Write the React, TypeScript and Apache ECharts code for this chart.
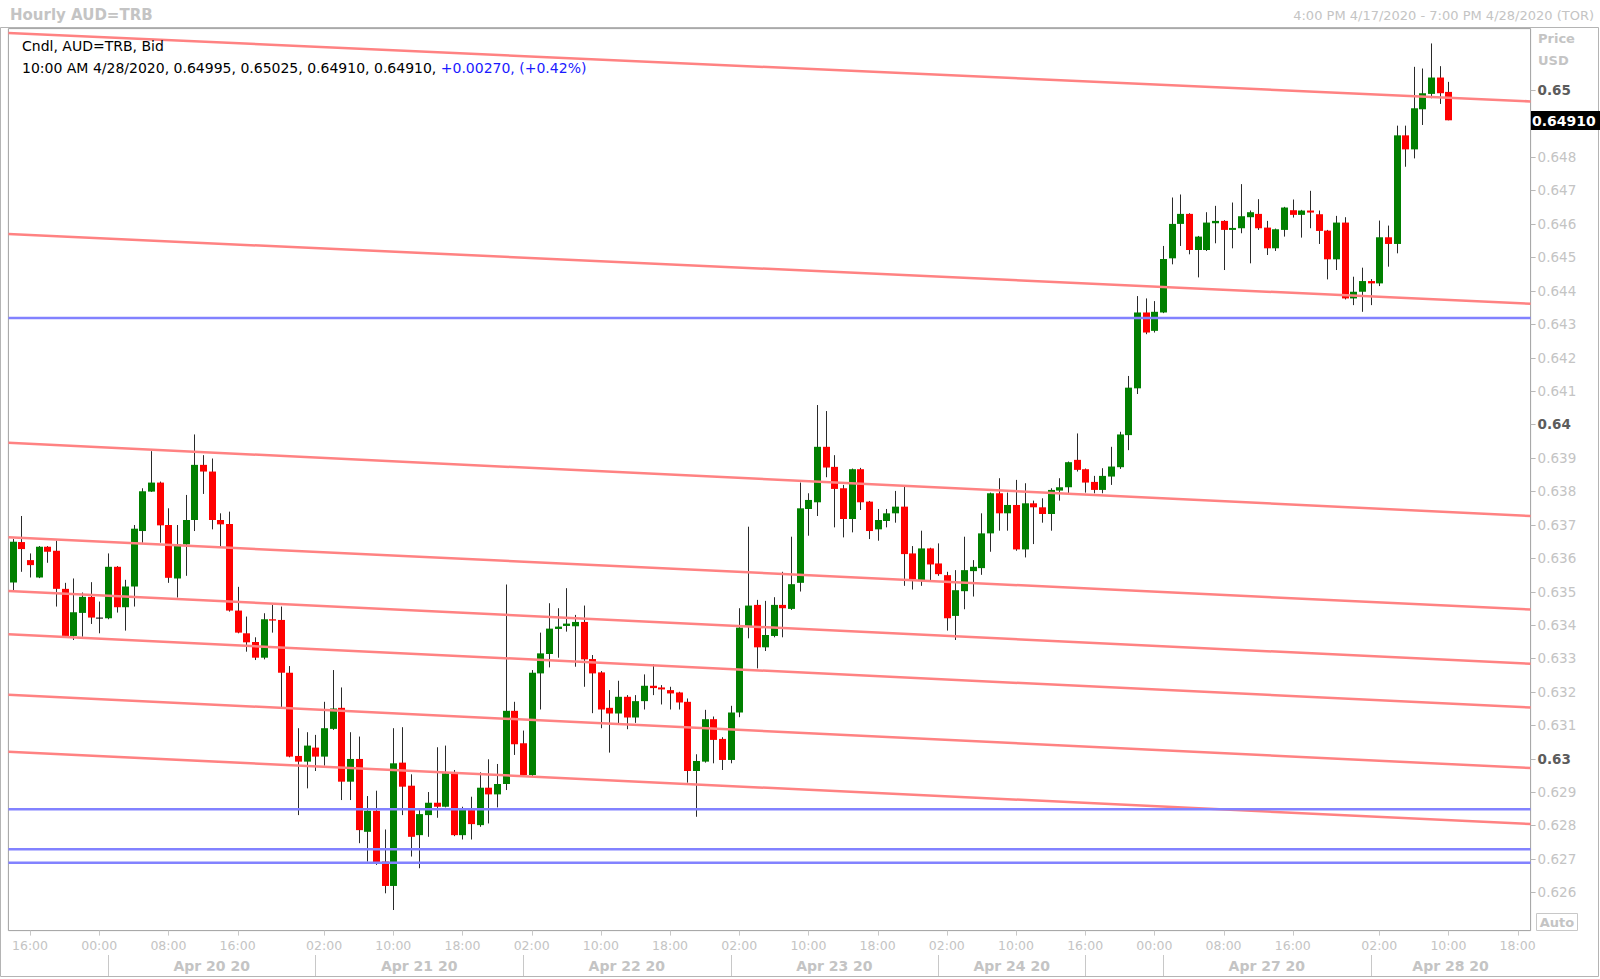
import React, { useEffect, useRef } from "react";
import * as echarts from "echarts";

// ---- Hourly candles (slot index = position in array) ----
const opens = [
  0.63527, 0.63648, 0.63594, 0.63542, 0.63634, 0.63622, 0.63508, 0.63367, 0.63436, 0.63484,
  0.63422, 0.63420, 0.63574, 0.63453, 0.63515, 0.63681, 0.63799, 0.63826, 0.63699, 0.63539,
  0.63641, 0.63714, 0.63879, 0.63859, 0.63714, 0.63702, 0.63443, 0.63375, 0.63349, 0.63302,
  0.63417, 0.63415, 0.63257, 0.63008, 0.62991, 0.63033, 0.63006, 0.63089, 0.63152, 0.62931,
  0.62999, 0.62781, 0.62844, 0.62692, 0.62619, 0.62988, 0.62919, 0.62771, 0.62831, 0.62868,
  0.62856, 0.62958, 0.62771, 0.62846, 0.62801, 0.62913, 0.62893, 0.62924, 0.63143, 0.63046,
  0.62951, 0.63255, 0.63313, 0.63388, 0.63397, 0.63396, 0.63409, 0.63298, 0.63258, 0.63152,
  0.63135, 0.63185, 0.63123, 0.63172, 0.63218, 0.63213, 0.63205, 0.63198, 0.63170, 0.62963,
  0.62991, 0.63118, 0.63059, 0.62996, 0.63138, 0.63395, 0.63460, 0.63333, 0.63367, 0.63460,
  0.63448, 0.63526, 0.63747, 0.63767, 0.63933, 0.63873, 0.63809, 0.63717, 0.63866, 0.63769,
  0.63686, 0.63711, 0.63734, 0.63754, 0.63614, 0.63534, 0.63629, 0.63584, 0.63549, 0.63427,
  0.63501, 0.63561, 0.63570, 0.63674, 0.63794, 0.63734, 0.63759, 0.63626, 0.63764, 0.63752,
  0.63732, 0.63802, 0.63812, 0.63894, 0.63866, 0.63828, 0.63804, 0.63844, 0.63872, 0.63968,
  0.64108, 0.64335, 0.64280, 0.64335, 0.64497, 0.64600, 0.64630, 0.64522, 0.64522, 0.64602,
  0.64609, 0.64582, 0.64587, 0.64620, 0.64630, 0.64589, 0.64527, 0.64582, 0.64641, 0.64627,
  0.64640, 0.64629, 0.64580, 0.64494, 0.64604, 0.64377, 0.64397, 0.64429, 0.64422, 0.64560,
  0.64540, 0.64865, 0.64823, 0.64943, 0.64989, 0.65038, 0.64995,
];
const highs = [
  0.63657, 0.63726, 0.63614, 0.63636, 0.63636, 0.63652, 0.63526, 0.63539, 0.63497, 0.63528,
  0.63470, 0.63614, 0.63576, 0.63535, 0.63699, 0.63809, 0.63920, 0.63829, 0.63749, 0.63699,
  0.63789, 0.63970, 0.63908, 0.63898, 0.63734, 0.63739, 0.63514, 0.63425, 0.63363, 0.63435,
  0.63460, 0.63455, 0.63277, 0.63091, 0.63079, 0.63071, 0.63170, 0.63265, 0.63213, 0.63079,
  0.63066, 0.62888, 0.62904, 0.62788, 0.63091, 0.63094, 0.62953, 0.62846, 0.62900, 0.63034,
  0.63039, 0.62966, 0.62856, 0.62886, 0.62959, 0.62998, 0.62984, 0.63521, 0.63170, 0.63084,
  0.63265, 0.63377, 0.63465, 0.63450, 0.63510, 0.63430, 0.63458, 0.63310, 0.63262, 0.63205,
  0.63233, 0.63190, 0.63190, 0.63252, 0.63283, 0.63220, 0.63215, 0.63200, 0.63180, 0.63013,
  0.63146, 0.63126, 0.63064, 0.63158, 0.63450, 0.63694, 0.63475, 0.63472, 0.63483, 0.63559,
  0.63664, 0.63826, 0.63794, 0.64058, 0.64040, 0.63908, 0.63819, 0.63868, 0.63870, 0.63771,
  0.63747, 0.63747, 0.63801, 0.63814, 0.63636, 0.63682, 0.63631, 0.63644, 0.63559, 0.63564,
  0.63664, 0.63594, 0.63734, 0.63796, 0.63839, 0.63796, 0.63834, 0.63824, 0.63772, 0.63779,
  0.63809, 0.63839, 0.63889, 0.63973, 0.63868, 0.63846, 0.63869, 0.63933, 0.63978, 0.64145,
  0.64384, 0.64377, 0.64369, 0.64534, 0.64679, 0.64688, 0.64632, 0.64564, 0.64635, 0.64654,
  0.64611, 0.64664, 0.64719, 0.64640, 0.64674, 0.64609, 0.64586, 0.64651, 0.64673, 0.64642,
  0.64699, 0.64640, 0.64582, 0.64624, 0.64620, 0.64442, 0.64469, 0.64435, 0.64610, 0.64595,
  0.64894, 0.64894, 0.65070, 0.65065, 0.65140, 0.65072, 0.65025,
];
const lows = [
  0.63504, 0.63559, 0.63542, 0.63540, 0.63586, 0.63455, 0.63363, 0.63355, 0.63365, 0.63403,
  0.63375, 0.63417, 0.63437, 0.63383, 0.63455, 0.63646, 0.63798, 0.63646, 0.63526, 0.63482,
  0.63547, 0.63681, 0.63792, 0.63686, 0.63634, 0.63440, 0.63375, 0.63320, 0.63295, 0.63297,
  0.63377, 0.63153, 0.63004, 0.62831, 0.62911, 0.62963, 0.62979, 0.63086, 0.62876, 0.62876,
  0.62747, 0.62692, 0.62682, 0.62597, 0.62547, 0.62831, 0.62707, 0.62672, 0.62766, 0.62823,
  0.62854, 0.62768, 0.62758, 0.62758, 0.62796, 0.62806, 0.62854, 0.62906, 0.63011, 0.62948,
  0.62948, 0.63147, 0.63273, 0.63302, 0.63380, 0.63275, 0.63215, 0.63136, 0.63091, 0.63018,
  0.63104, 0.63088, 0.63107, 0.63147, 0.63190, 0.63162, 0.63147, 0.63147, 0.62928, 0.62826,
  0.62988, 0.62986, 0.62966, 0.62986, 0.63124, 0.63360, 0.63270, 0.63322, 0.63363, 0.63363,
  0.63445, 0.63500, 0.63667, 0.63726, 0.63842, 0.63692, 0.63662, 0.63677, 0.63744, 0.63657,
  0.63652, 0.63692, 0.63706, 0.63517, 0.63506, 0.63517, 0.63534, 0.63547, 0.63383, 0.63355,
  0.63447, 0.63485, 0.63550, 0.63619, 0.63682, 0.63682, 0.63622, 0.63602, 0.63642, 0.63706,
  0.63682, 0.63772, 0.63794, 0.63859, 0.63796, 0.63794, 0.63794, 0.63819, 0.63867, 0.63923,
  0.64091, 0.64270, 0.64275, 0.64333, 0.64479, 0.64534, 0.64509, 0.64440, 0.64519, 0.64542,
  0.64462, 0.64527, 0.64572, 0.64482, 0.64582, 0.64507, 0.64519, 0.64562, 0.64619, 0.64559,
  0.64587, 0.64540, 0.64434, 0.64462, 0.64374, 0.64357, 0.64337, 0.64357, 0.64414, 0.64472,
  0.64512, 0.64771, 0.64796, 0.64896, 0.64976, 0.64959, 0.64910,
];
const closes = [
  0.63649, 0.63627, 0.63579, 0.63634, 0.63619, 0.63508, 0.63367, 0.63438, 0.63484, 0.63422,
  0.63422, 0.63574, 0.63453, 0.63515, 0.63688, 0.63800, 0.63826, 0.63698, 0.63541, 0.63641,
  0.63714, 0.63879, 0.63859, 0.63714, 0.63701, 0.63443, 0.63377, 0.63348, 0.63302, 0.63417,
  0.63413, 0.63257, 0.63006, 0.62991, 0.63039, 0.63006, 0.63091, 0.63150, 0.62931, 0.62999,
  0.62786, 0.62844, 0.62689, 0.62619, 0.62986, 0.62916, 0.62766, 0.62834, 0.62868, 0.62856,
  0.62956, 0.62771, 0.62848, 0.62804, 0.62913, 0.62893, 0.62924, 0.63143, 0.63043, 0.62951,
  0.63257, 0.63315, 0.63389, 0.63395, 0.63404, 0.63409, 0.63297, 0.63255, 0.63147, 0.63135,
  0.63185, 0.63123, 0.63172, 0.63218, 0.63211, 0.63207, 0.63195, 0.63168, 0.62963, 0.62993,
  0.63118, 0.63056, 0.62996, 0.63138, 0.63392, 0.63458, 0.63333, 0.63370, 0.63460, 0.63450,
  0.63522, 0.63749, 0.63774, 0.63933, 0.63871, 0.63807, 0.63717, 0.63866, 0.63767, 0.63681,
  0.63714, 0.63734, 0.63754, 0.63612, 0.63537, 0.63629, 0.63581, 0.63552, 0.63420, 0.63504,
  0.63564, 0.63574, 0.63674, 0.63794, 0.63734, 0.63759, 0.63626, 0.63764, 0.63752, 0.63732,
  0.63804, 0.63812, 0.63887, 0.63864, 0.63826, 0.63804, 0.63846, 0.63874, 0.63970, 0.64110,
  0.64335, 0.64275, 0.64337, 0.64495, 0.64600, 0.64630, 0.64522, 0.64562, 0.64604, 0.64609,
  0.64582, 0.64588, 0.64623, 0.64635, 0.64587, 0.64527, 0.64584, 0.64649, 0.64627, 0.64640,
  0.64634, 0.64579, 0.64494, 0.64604, 0.64377, 0.64397, 0.64429, 0.64422, 0.64560, 0.64540,
  0.64865, 0.64823, 0.64946, 0.64991, 0.65038, 0.64991, 0.64910,
];

// ---- Axis layout data ----
const slotCount = 176;
const timeTickSlots = [2, 10, 18, 26, 36, 44, 52, 60, 68, 76, 84, 92, 100, 108, 116, 124, 132, 140, 148, 158, 166, 174];
const timeTickLabels = [
  "16:00", "00:00", "08:00", "16:00", "02:00", "10:00", "18:00", "02:00", "10:00", "18:00", "02:00",
  "10:00", "18:00", "02:00", "10:00", "16:00", "00:00", "08:00", "16:00", "02:00", "10:00", "18:00",
];
const daySeparatorSlots = [11, 35, 59, 83, 107, 124, 133, 157];
const dayLabelSlots = [23, 47, 71, 95, 115.5, 145, 166.25];
const dayLabels = ["Apr 20 20", "Apr 21 20", "Apr 22 20", "Apr 23 20", "Apr 24 20", "Apr 27 20", "Apr 28 20"];
const priceTicks = [
  0.626, 0.627, 0.628, 0.629, 0.63, 0.631, 0.632, 0.633, 0.634, 0.635, 0.636, 0.637, 0.638,
  0.639, 0.64, 0.641, 0.642, 0.643, 0.644, 0.645, 0.646, 0.647, 0.648, 0.65,
];
const priceMin = 0.624854;
const priceMax = 0.651844;

// ---- Drawn studies ----
const trendLineStarts = [0.651715, 0.645697, 0.639452, 0.636625, 0.635015, 0.633719, 0.631912, 0.630204];
const trendLineEnds = [0.649665, 0.643609, 0.637259, 0.634462, 0.632837, 0.631529, 0.629718, 0.628043];
const levelLines = [0.643184, 0.628483, 0.627286, 0.626885];

// ---- Header texts ----
const lastBarTime = "10:00 AM 4/28/2020";
const changeAbs = "+0.00270";
const changePct = "(+0.42%)";

const FONT = "'DejaVu Sans', Verdana, sans-serif";
const LIGHT = "#c4c4c4";

export default function App() {
  const ref = useRef<HTMLDivElement>(null);

  useEffect(() => {
    if (!ref.current) return;
    const chart = echarts.init(ref.current, undefined, { renderer: "svg" });

    const candleData = opens.map((o, i) => [i, o, closes[i], lows[i], highs[i]]);

    const trendSeries = trendLineStarts.map((s, k) => ({
      type: "line",
      xAxisIndex: 0,
      yAxisIndex: 0,
      data: [
        [-0.5, s],
        [slotCount - 0.5, trendLineEnds[k]],
      ],
      symbol: "none",
      silent: true,
      z: 5,
      lineStyle: { color: "#ff8282", width: 2.5 },
    }));
    const levelSeries = levelLines.map((v) => ({
      type: "line",
      xAxisIndex: 0,
      yAxisIndex: 0,
      data: [
        [-0.5, v],
        [slotCount - 0.5, v],
      ],
      symbol: "none",
      silent: true,
      z: 5,
      lineStyle: { color: "#8282ff", width: 2.5 },
    }));

    const option: any = {
      animation: false,
      backgroundColor: "#ffffff",
      grid: {
        left: 8.4,
        top: 28.6,
        right: 69.4,
        bottom: 48.4,
        show: true,
        borderColor: "#a0a0a0",
        borderWidth: 1,
        backgroundColor: "#ffffff",
        outerBoundsMode: "none",
      },
      xAxis: [
        {
          type: "value",
          min: -0.5,
          max: slotCount - 0.5,
          position: "bottom",
          axisLine: { show: false },
          splitLine: { show: false },
          axisTick: { show: false },
          axisLabel: {
            customValues: timeTickSlots,
            margin: 8,
            color: LIGHT,
            fontFamily: FONT,
            fontSize: 12.5,
            formatter: (v: number) => {
              const k = timeTickSlots.indexOf(Math.round(v));
              return k >= 0 ? timeTickLabels[k] : "";
            },
          },
        },
      ],
      yAxis: [
        {
          type: "value",
          position: "right",
          min: priceMin,
          max: priceMax,
          scale: true,
          axisLine: { show: false },
          splitLine: { show: false },
          axisTick: { show: false },
          axisLabel: {
            customValues: priceTicks,
            margin: 7,
            fontFamily: FONT,
            formatter: (v: number) => {
              const major = Math.abs(v * 100 - Math.round(v * 100)) < 1e-6;
              return major ? `{b|${v.toFixed(2)}}` : `{n|${v.toFixed(3)}}`;
            },
            rich: {
              b: { fontFamily: FONT, fontSize: 13.5, fontWeight: "bold", color: "#5c5c5c" },
              n: { fontFamily: FONT, fontSize: 13.5, color: LIGHT },
            },
          },
        },
      ],
      series: [
        {
          type: "custom",
          xAxisIndex: 0,
          yAxisIndex: 0,
          z: 3,
          data: candleData,
          encode: { x: 0, y: [1, 2, 3, 4] },
          renderItem: (params: any, api: any) => {
            const x = api.value(0);
            const o = api.value(1);
            const c = api.value(2);
            const l = api.value(3);
            const h = api.value(4);
            const pO = api.coord([x, o]);
            const pC = api.coord([x, c]);
            const pH = api.coord([x, h]);
            const pL = api.coord([x, l]);
            const xc = Math.round(pO[0]) + 0.5;
            const top = Math.min(pO[1], pC[1]);
            const bot = Math.max(pO[1], pC[1]);
            const doji = Math.abs(c - o) < 1e-9;
            const fill = doji ? "#000000" : c > o ? "#008000" : "#ff0000";
            return {
              type: "group",
              children: [
                {
                  type: "line",
                  shape: { x1: xc, y1: pH[1], x2: xc, y2: pL[1] },
                  style: { stroke: "#2a2a2a", lineWidth: 1 },
                },
                {
                  type: "rect",
                  shape: { x: xc - 3.5, y: top, width: 7, height: Math.max(bot - top, 1) },
                  style: { fill, stroke: null },
                },
              ],
            };
          },
        },
        ...trendSeries,
        ...levelSeries,
      ],
    };

    chart.setOption(option);

    const px = (v: number) => chart.convertToPixel({ xAxisIndex: 0 }, v) as number;
    const py = (v: number) => chart.convertToPixel({ yAxisIndex: 0 }, v) as number;

    const lastIdx = closes.length - 1;
    const f5 = (v: number) => v.toFixed(5);
    const legendValues = `${lastBarTime}, ${f5(opens[lastIdx])}, ${f5(highs[lastIdx])}, ${f5(lows[lastIdx])}, ${f5(closes[lastIdx])}, `;
    const plotRight = px(slotCount - 0.5);
    const plotBottom = py(priceMin);

    const graphics: any[] = [
      // outer panel frame
      {
        type: "rect",
        silent: true,
        shape: { x: 0.5, y: 27.5, width: 1598, height: 949 },
        style: { fill: "none", stroke: "#b4b4b4", lineWidth: 1 },
        z: -10,
      },
      {
        type: "text",
        x: 10,
        y: 15,
        style: {
          text: "Hourly AUD=TRB",
          fontFamily: FONT,
          fontSize: 15,
          fontWeight: "bold",
          fill: LIGHT,
          verticalAlign: "middle",
        },
      },
      {
        type: "text",
        x: 1594,
        y: 15,
        style: {
          text: "4:00 PM 4/17/2020 - 7:00 PM 4/28/2020 (TOR)",
          fontFamily: FONT,
          fontSize: 13,
          fill: LIGHT,
          align: "right",
          verticalAlign: "middle",
        },
      },
      {
        type: "text",
        x: 22,
        y: 46,
        z: 20,
        style: {
          text: "Cndl, AUD=TRB, Bid",
          fontFamily: FONT,
          fontSize: 14,
          fill: "#000000",
          verticalAlign: "middle",
        },
      },
      {
        type: "text",
        x: 22,
        y: 68,
        z: 20,
        style: {
          text: `{k|${legendValues}}{c|${changeAbs}, ${changePct}}`,
          verticalAlign: "middle",
          rich: {
            k: { fontFamily: FONT, fontSize: 14, fill: "#000000", color: "#000000" },
            c: { fontFamily: FONT, fontSize: 14, fill: "#1a1aff", color: "#1a1aff" },
          },
        },
      },
      {
        type: "text",
        x: 1538,
        y: 38,
        style: { text: "Price", fontFamily: FONT, fontSize: 13, fontWeight: "bold", fill: LIGHT, verticalAlign: "middle" },
      },
      {
        type: "text",
        x: 1538,
        y: 60,
        style: { text: "USD", fontFamily: FONT, fontSize: 13, fontWeight: "bold", fill: LIGHT, verticalAlign: "middle" },
      },
      {
        type: "rect",
        shape: { x: 1531, y: Math.round(py(closes[lastIdx])) - 9, width: 69, height: 19 },
        style: { fill: "#000000" },
        z: 20,
      },
      {
        type: "text",
        x: 1532,
        y: Math.round(py(closes[lastIdx])) + 0.5,
        z: 21,
        style: {
          text: f5(closes[lastIdx]),
          fontFamily: FONT,
          fontSize: 14,
          fontWeight: "bold",
          fill: "#ffffff",
          verticalAlign: "middle",
        },
      },
      {
        type: "rect",
        shape: { x: 1536.5, y: 913.5, width: 41, height: 17 },
        style: { fill: "#ffffff", stroke: "#c8c8c8", lineWidth: 1 },
        z: 20,
      },
      {
        type: "text",
        x: 1557,
        y: 922.5,
        z: 21,
        style: {
          text: "Auto",
          fontFamily: FONT,
          fontSize: 13,
          fontWeight: "bold",
          fill: LIGHT,
          align: "center",
          verticalAlign: "middle",
        },
      },
    ];

    // price ticks on the right edge of the plot
    priceTicks.forEach((v) => {
      const y = Math.round(py(v)) + 0.5;
      graphics.push({
        type: "line",
        silent: true,
        shape: { x1: plotRight, y1: y, x2: plotRight + 5, y2: y },
        style: { stroke: "#b8b8b8", lineWidth: 1 },
      });
    });
    // time ticks under the plot
    timeTickSlots.forEach((s) => {
      const x = Math.round(px(s)) + 0.5;
      graphics.push({
        type: "line",
        silent: true,
        shape: { x1: x, y1: plotBottom, x2: x, y2: plotBottom + 5 },
        style: { stroke: "#c8c8c8", lineWidth: 1 },
      });
    });
    // day separators & labels
    daySeparatorSlots.forEach((s) => {
      const x = Math.round(px(s)) + 0.5;
      graphics.push({
        type: "line",
        silent: true,
        shape: { x1: x, y1: 955, x2: x, y2: 976 },
        style: { stroke: "#c8c8c8", lineWidth: 1 },
      });
    });
    dayLabels.forEach((t, k) => {
      graphics.push({
        type: "text",
        x: px(dayLabelSlots[k]),
        y: 966,
        style: {
          text: t,
          fontFamily: FONT,
          fontSize: 14,
          fontWeight: "bold",
          fill: LIGHT,
          align: "center",
          verticalAlign: "middle",
        },
      });
    });

    chart.setOption({ graphic: graphics });

    return () => chart.dispose();
  }, []);

  return (
    <div
      ref={ref}
      style={{ position: "fixed", left: 0, top: 0, width: 1600, height: 979, background: "#ffffff" }}
    />
  );
}
